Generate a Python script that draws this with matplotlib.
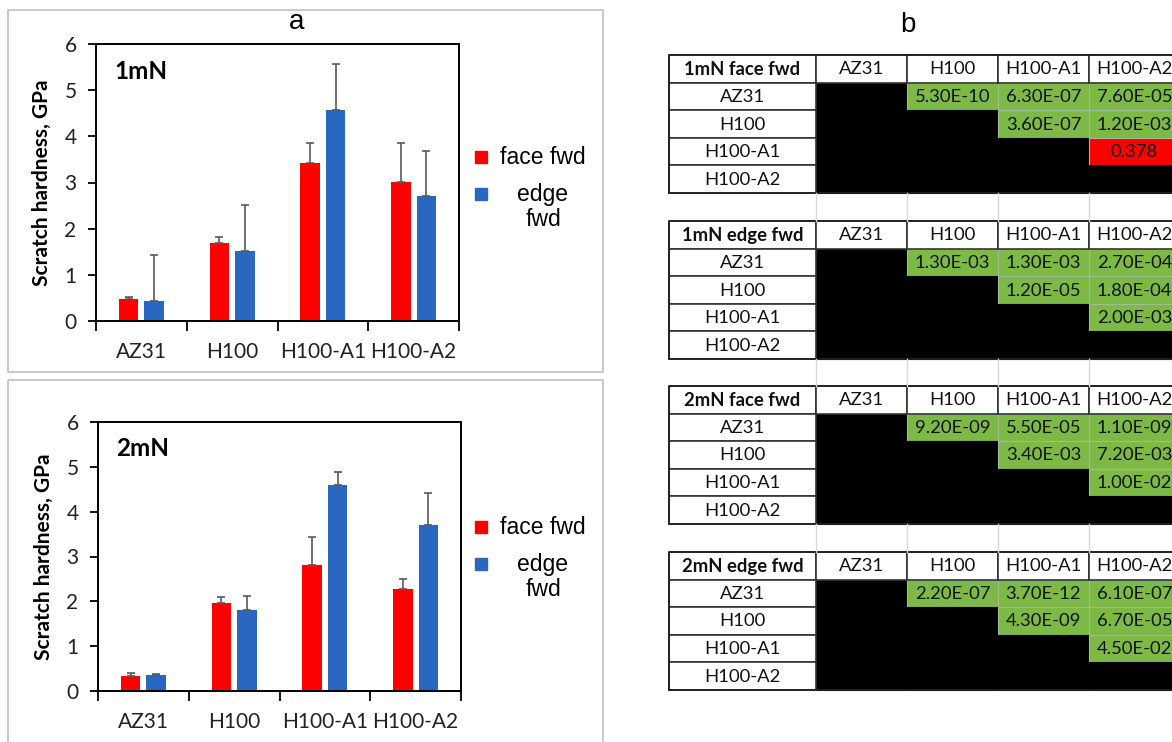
import matplotlib
matplotlib.use("Agg")
import matplotlib.pyplot as plt
from matplotlib.patches import Rectangle
import numpy as np

# ---------------- data ----------------
categories = ["AZ31", "H100", "H100-A1", "H100-A2"]

face_1mN = [0.48, 1.70, 3.42, 3.02]
face_1mN_err = [0.03, 0.12, 0.44, 0.83]
edge_1mN = [0.43, 1.51, 4.58, 2.70]
edge_1mN_err = [1.00, 1.00, 0.99, 0.98]

face_2mN = [0.33, 1.96, 2.82, 2.27]
face_2mN_err = [0.07, 0.13, 0.62, 0.23]
edge_2mN = [0.36, 1.81, 4.59, 3.71]
edge_2mN_err = [0.02, 0.32, 0.29, 0.71]

series_labels = ["face fwd", "edge\nfwd"]
panel_labels = ["1mN", "2mN"]
y_label = "Scratch hardness, GPa"

table_titles = ["1mN face fwd", "1mN edge fwd", "2mN face fwd", "2mN edge fwd"]
# upper-triangle p-values: (AZ31,H100),(AZ31,A1),(AZ31,A2),(H100,A1),(H100,A2),(A1,A2)
p_1mN_face = ["5.30E-10", "6.30E-07", "7.60E-05", "3.60E-07", "1.20E-03", "0.378"]
p_1mN_edge = ["1.30E-03", "1.30E-03", "2.70E-04", "1.20E-05", "1.80E-04", "2.00E-03"]
p_2mN_face = ["9.20E-09", "5.50E-05", "1.10E-09", "3.40E-03", "7.20E-03", "1.00E-02"]
p_2mN_edge = ["2.20E-07", "3.70E-12", "6.10E-07", "4.30E-09", "6.70E-05", "4.50E-02"]

# ---------------- styling ----------------
W, H = 1172, 742
RED = "#FF0000"
BLUE = "#2A67C1"
GREEN = "#7DBA45"
FONT = "Lato"
ARIAL = "Liberation Sans"

fig = plt.figure(figsize=(W / 100, H / 100), dpi=100)
fig.patch.set_facecolor("white")


def rect(l, t, r, b):
    return [l / W, 1 - b / H, (r - l) / W, (b - t) / H]


# overlay axes in pixel coordinates
ov = fig.add_axes([0, 0, 1, 1])
ov.set_xlim(0, W)
ov.set_ylim(H, 0)
ov.axis("off")

# panel frames
for (l, t, r, b) in [(8, 10, 603, 372), (8, 380, 603, 748)]:
    ov.add_patch(Rectangle((l, t), r - l, b - t, fill=False, edgecolor="#c0c0c0", lw=1.2))

ov.text(297, 22, "a", ha="center", va="center", fontsize=20, family=ARIAL)
ov.text(908, 25, "b", ha="center", va="center", fontsize=20, family=ARIAL)


def bar_panel(box, face, face_err, edge, edge_err, label, leg_y):
    ax = fig.add_axes(rect(*box))
    ax.set_facecolor("none")
    x = np.arange(len(categories))
    w = 0.215
    off = 0.14
    ax.bar(x - off, face, w, color=RED, zorder=2)
    ax.bar(x + off, edge, w, color=BLUE, zorder=2)
    ekw = dict(fmt="none", ecolor="#595959", elinewidth=1.2, capsize=2.8, capthick=1.2, zorder=3)
    ax.errorbar(x - off, face, yerr=[np.zeros(len(face)), face_err], **ekw)
    ax.errorbar(x + off, edge, yerr=[np.zeros(len(edge)), edge_err], **ekw)
    ax.set_xlim(-0.5, len(categories) - 0.5)
    ax.set_ylim(0, 6)
    ax.set_yticks(range(7))
    ax.set_yticklabels([str(v) for v in range(7)], fontsize=15, family=FONT, color="#222222")
    ax.set_xticks(np.arange(-0.5, len(categories)))
    ax.set_xticklabels([])
    ax.set_xticks(x, minor=True)
    ax.set_xticklabels(categories, minor=True, fontsize=15, family=FONT, color="#222222")
    ax.tick_params(axis="x", which="major", length=7, width=1.3, direction="out", color="black")
    ax.tick_params(axis="x", which="minor", length=0, pad=15)
    ax.tick_params(axis="y", length=6, width=1.3, direction="out", pad=8, color="black")
    for s in ax.spines.values():
        s.set_color("black")
        s.set_linewidth(1.4)
    ax.set_ylabel(y_label, fontsize=15, family=FONT, fontweight="bold", labelpad=9)
    ax.text(0.05, 0.9, label, transform=ax.transAxes, fontsize=17.5, family=FONT,
            fontweight="bold", ha="left", va="center")
    # legend
    fy, ey, ey2 = leg_y
    ov.add_patch(Rectangle((474.5, fy - 6.3), 12.3, 12.6, color=RED))
    ov.add_patch(Rectangle((474.5, ey - 6.3), 12.3, 12.6, color=BLUE))
    ov.text(543, fy, series_labels[0], ha="center", va="center", fontsize=16.5, family=ARIAL)
    l1, l2 = series_labels[1].split("\n")
    ov.text(543, ey, l1, ha="center", va="center", fontsize=16.5, family=ARIAL)
    ov.text(543, ey2, l2, ha="center", va="center", fontsize=16.5, family=ARIAL)
    return ax


bar_panel((96, 44, 459, 321), face_1mN, face_1mN_err, edge_1mN, edge_1mN_err,
          panel_labels[0], (157, 194, 220))
bar_panel((98, 422, 461, 691), face_2mN, face_2mN_err, edge_2mN, edge_2mN_err,
          panel_labels[1], (527, 564, 590))

# ---------------- tables ----------------
col_x = [669, 816, 907, 998, 1089, 1180]
table_tops = [55, 221, 386, 552]
row_h = 27.6
tables = [p_1mN_face, p_1mN_edge, p_2mN_face, p_2mN_edge]
pairs = [(0, 1), (0, 2), (0, 3), (1, 2), (1, 3), (2, 3)]
TFS = 13.3

for ti, (title, pvals) in enumerate(zip(table_titles, tables)):
    top = table_tops[ti]
    n = len(categories)
    lookup = {pr: v for pr, v in zip(pairs, pvals)}
    # data cells
    for i in range(n):
        for j in range(n):
            x0, x1 = col_x[j + 1], col_x[j + 2]
            y0 = top + (i + 1) * row_h
            if (i, j) in lookup:
                s = lookup[(i, j)]
                fc = GREEN if float(s) < 0.05 else RED
                ov.add_patch(Rectangle((x0, y0), x1 - x0, row_h, facecolor=fc,
                                       edgecolor="#a8b89a", lw=0.8))
                ov.text((x0 + x1) / 2, y0 + row_h / 2 + 0.5, s, ha="center", va="center",
                        fontsize=TFS, family=FONT, color="#111111")
            else:
                ov.add_patch(Rectangle((x0, y0), x1 - x0, row_h, facecolor="black",
                                       edgecolor="black", lw=0.8))
    # header row
    heads = [title] + categories
    for j, h in enumerate(heads):
        x0, x1 = col_x[j], col_x[j + 1]
        ov.add_patch(Rectangle((x0, top), x1 - x0, row_h, facecolor="white",
                               edgecolor="#333333", lw=1.2))
        ov.text((x0 + x1) / 2, top + row_h / 2 + 0.5, h, ha="center", va="center",
                fontsize=TFS, family=FONT, color="#111111",
                fontweight="bold" if j == 0 else "normal")
    # row labels
    for i, c in enumerate(categories):
        y0 = top + (i + 1) * row_h
        ov.add_patch(Rectangle((col_x[0], y0), col_x[1] - col_x[0], row_h, facecolor="white",
                               edgecolor="#333333", lw=1.2))
        ov.text((col_x[0] + col_x[1]) / 2, y0 + row_h / 2 + 0.5, c, ha="center", va="center",
                fontsize=TFS, family=FONT, color="#111111")
    # outer border
    ov.add_patch(Rectangle((col_x[0], top), col_x[-1] - col_x[0], 5 * row_h, fill=False,
                           edgecolor="#222222", lw=1.3))
    # spreadsheet gridlines in the gap below (except after last table)
    if ti < len(table_tops) - 1:
        gy0 = top + 5 * row_h
        gy1 = table_tops[ti + 1]
        for xv in col_x[1:-1]:
            ov.plot([xv, xv], [gy0, gy1], color="#d9d9d9", lw=1.0)

fig.savefig("out.png", dpi=100, facecolor="white")
